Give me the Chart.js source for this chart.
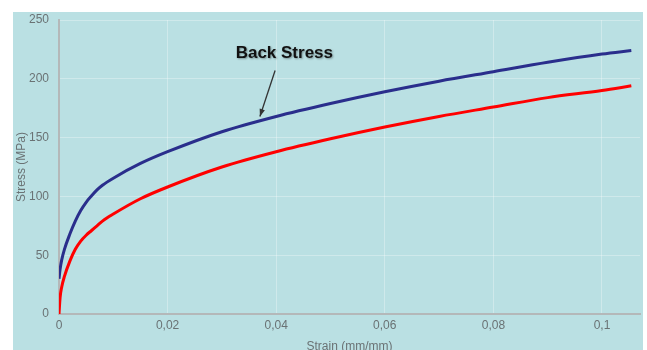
<!DOCTYPE html>
<html>
<head>
<meta charset="utf-8">
<script src="https://cdn.jsdelivr.net/npm/chart.js@4.4.1/dist/chart.umd.min.js"></script>
<style>
	html, body { margin: 0; padding: 0; background: #fff; overflow: hidden; }
	#wrap { position: absolute; left: 0; top: 0; width: 647px; height: 350px; }
</style>
</head>
<body>
<div id="wrap"><canvas id="chart" width="647" height="350"></canvas></div>
<script>
// values
const strain = [0, 0.0002, 0.0005, 0.001, 0.002, 0.003, 0.004, 0.005, 0.006, 0.007, 0.008, 0.01, 0.015, 0.02, 0.03, 0.04, 0.05, 0.06, 0.07, 0.08, 0.09, 0.1, 0.1054];
const backStress = [30, 38, 46, 55, 68, 79, 88, 95, 100.5, 105.5, 109.5, 115.5, 128, 138, 155, 168, 179, 189, 198, 206, 214, 221, 224];
const stress = [0, 14, 23, 32, 45, 55, 62, 67, 71, 75, 79, 85, 98, 108, 125, 138, 149, 159, 168, 176, 184, 190, 194];
const xTicks = [0, 0.02, 0.04, 0.06, 0.08, 0.1];
const yTicks = [0, 50, 100, 150, 200, 250];

const toPoints = function (ys) {
	return strain.map(function (x, i) { return { x: x, y: ys[i] }; });
};

// teal panel behind the chart
const panel = {
	id: 'panel',
	beforeDraw: function (chart) {
		const ctx = chart.ctx;
		ctx.save();
		ctx.fillStyle = '#bae0e3';
		ctx.fillRect(13, 12, 630, 340);
		ctx.restore();
	}
};

// "Back Stress" label with arrow
const note = {
	id: 'note',
	afterDatasetsDraw: function (chart) {
		const ctx = chart.ctx;
		const xs = chart.scales.x, ys = chart.scales.y;
		const tx = xs.getPixelForValue(0.0415), ty = ys.getPixelForValue(222);
		const x1 = xs.getPixelForValue(0.0398), y1 = ys.getPixelForValue(207);
		const x2 = xs.getPixelForValue(0.0370), y2 = ys.getPixelForValue(168);
		ctx.save();
		ctx.font = 'bold 17px "Liberation Sans", Arial, sans-serif';
		ctx.textAlign = 'center';
		ctx.textBaseline = 'middle';
		ctx.shadowColor = 'rgba(0,0,0,0.35)';
		ctx.shadowOffsetX = 1;
		ctx.shadowOffsetY = 1;
		ctx.shadowBlur = 2;
		ctx.fillStyle = '#111';
		ctx.fillText('Back Stress', tx, ty);
		ctx.shadowColor = 'transparent';
		ctx.strokeStyle = '#333';
		ctx.lineWidth = 1.3;
		ctx.beginPath();
		ctx.moveTo(x1, y1);
		ctx.lineTo(x2, y2);
		ctx.stroke();
		const a = Math.atan2(y2 - y1, x2 - x1);
		ctx.fillStyle = '#333';
		ctx.beginPath();
		ctx.moveTo(x2, y2);
		ctx.lineTo(x2 - 8 * Math.cos(a - 0.35), y2 - 8 * Math.sin(a - 0.35));
		ctx.lineTo(x2 - 8 * Math.cos(a + 0.35), y2 - 8 * Math.sin(a + 0.35));
		ctx.closePath();
		ctx.fill();
		ctx.restore();
	}
};

Chart.defaults.font.family = '"Liberation Sans", Arial, sans-serif';
Chart.defaults.font.size = 12;
Chart.defaults.color = '#6a7274';

new Chart(document.getElementById('chart'), {
	type: 'line',
	data: {
		datasets: [{
			label: 'Back Stress',
			data: toPoints(backStress),
			borderColor: '#2a2e8c',
			borderWidth: 3,
			pointRadius: 0,
			cubicInterpolationMode: 'monotone',
			fill: false
		}, {
			label: 'Stress',
			data: toPoints(stress),
			borderColor: '#ff0000',
			borderWidth: 3,
			pointRadius: 0,
			cubicInterpolationMode: 'monotone',
			fill: false
		}]
	},
	options: {
		responsive: false,
		animation: false,
		layout: { padding: { top: 20, right: 7, left: 14, bottom: 0 } },
		plugins: { legend: { display: false }, tooltip: { enabled: false } },
		scales: {
			x: {
				type: 'linear',
				min: 0,
				max: 0.107,
				afterBuildTicks: function (scale) {
					scale.ticks = xTicks.map(function (v) { return { value: v }; });
				},
				afterFit: function (scale) { scale.height = 36; },
				ticks: {
					padding: 4,
					maxRotation: 0,
					callback: function (v) { return String(v).replace('.', ','); }
				},
				grid: { color: 'rgba(255,255,255,0.3)', drawTicks: false },
				border: { color: '#b4b8b9', width: 2 },
				title: { display: true, text: 'Strain (mm/mm)', padding: { top: 0, bottom: -4 } }
			},
			y: {
				min: 0,
				max: 250,
				afterBuildTicks: function (scale) {
					scale.ticks = yTicks.map(function (v) { return { value: v }; });
				},
				afterFit: function (scale) { scale.width = 45; },
				ticks: { padding: 10 },
				grid: { color: 'rgba(255,255,255,0.3)', drawTicks: false },
				border: { color: '#b4b8b9', width: 2 },
				title: { display: true, text: 'Stress (MPa)', padding: { top: 0, bottom: 0 } }
			}
		}
	},
	plugins: [panel, note]
});
</script>
</body>
</html>
